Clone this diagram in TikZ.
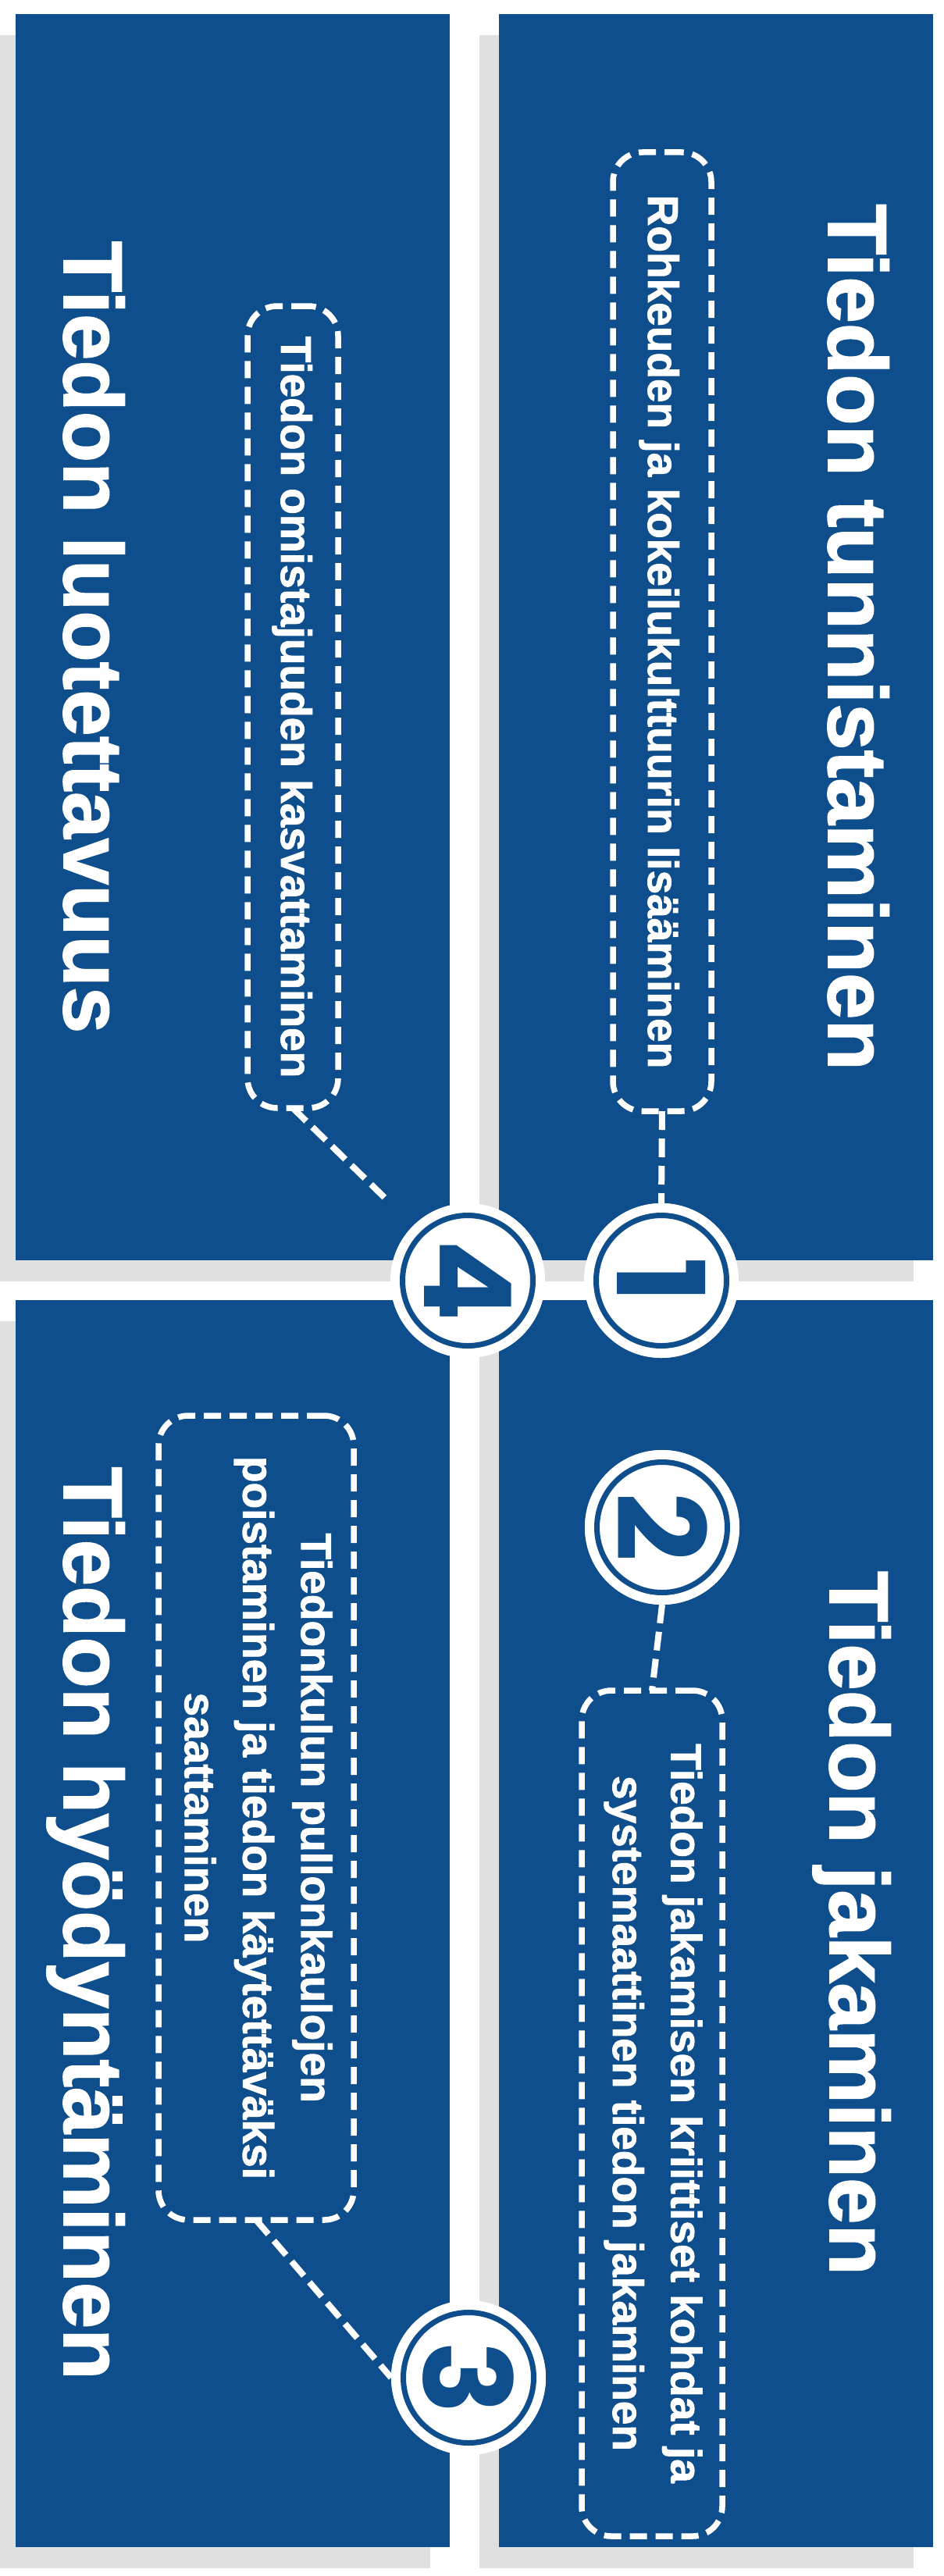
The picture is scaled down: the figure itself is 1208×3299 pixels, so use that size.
\documentclass[tikz,border=0pt]{standalone}
\usepackage{fontspec}
\setmainfont{Liberation Sans}[BoldFeatures={FakeBold=1.6}]
\newfontfamily\digfont{Poppins}
\definecolor{panelblue}{RGB}{14,78,140}
\definecolor{shadowgray}{RGB}{224,224,224}
\begin{document}
\begin{tikzpicture}[x=1pt,y=-1pt,
  dbox/.style={draw=white, line width=7.5pt, dash pattern=on 22pt off 11pt,
    rounded corners=38pt, inner sep=0pt, outer sep=0pt, rectangle},
  conn/.style={draw=white, line width=8pt, dash pattern=on 24pt off 11pt},
  titletext/.style={text=white, font=\bfseries\fontsize{107}{128}\selectfont,
    rotate=-90, anchor=base, inner sep=0pt},
  boxtext/.style={text=white, font=\bfseries\fontsize{55}{74.5}\selectfont,
    rotate=-90, align=center, inner sep=0pt},
  numdisc/.style={circle, fill=white, minimum size=198pt, inner sep=0pt, outer sep=0pt},
  numring/.style={draw=panelblue, line width=7pt},
  digit/.style={text=panelblue, font=\digfont\bfseries\fontsize{155}{160}\selectfont,
    rotate=-90, inner sep=0pt}
]
\useasboundingbox (0,0) rectangle (1208,3299);
\fill[white] (0,0) rectangle (1208,3299);

% shadows
\fill[shadowgray] (0,45) rectangle (551,1641);
\fill[shadowgray] (614,45) rectangle (1170,1641);
\fill[shadowgray] (0,1692) rectangle (551,3289);
\fill[shadowgray] (614,1692) rectangle (1170,3289);

% panels
\fill[panelblue] (20,18) rectangle (576,1614);
\fill[panelblue] (639,18) rectangle (1195,1614);
\fill[panelblue] (20,1665) rectangle (576,3262);
\fill[panelblue] (639,1665) rectangle (1195,3262);

% dashed boxes
\node[dbox, minimum width=126pt, minimum height=1228pt] (b1) at (848,809) {};
\node[dbox, minimum width=180pt, minimum height=1083pt] (b2) at (835,2706.5) {};
\node[dbox, minimum width=250pt, minimum height=1030pt] (b3) at (328,2328) {};
\node[dbox, minimum width=116pt, minimum height=1027pt] (b4) at (375,905.5) {};

% circles
\node[numdisc] (c1) at (847,1640) {};
\node[numdisc] (c2) at (848,1956) {};
\node[numdisc] (c3) at (600,3045) {};
\node[numdisc] (c4) at (599,1640) {};
\coordinate (c4corner) at (c4.west |- c4.north);

% connectors
\draw[conn] (b1.south) -- (c1.north);
\draw[conn] (c2.south) -- (b2.north);
\draw[conn] (b3.south) -- (c3.west);
\draw[conn] (b4.south) -- (c4corner);

% redraw discs over connector ends
\node[numdisc] (c1b) at (c1) {};
\node[numdisc] (c2b) at (c2) {};
\node[numdisc] (c3b) at (c3) {};
\node[numdisc] (c4b) at (c4) {};

\draw[numring] (c1.center) circle[radius=83.5pt];
\draw[numring] (c2.center) circle[radius=83.5pt];
\draw[numring] (c3.center) circle[radius=83.5pt];
\draw[numring] (c4.center) circle[radius=83.5pt];

\node[digit] (d1) at (c1.center) {1};
\node[digit] (d2) at (c2.center) {2};
\node[digit] (d3) at (c3.center) {3};
\node[digit] (d4) at (c4.center) {4};

% titles
\node[titletext] (t1) at (1061,816) {Tiedon tunnistaminen};
\node[titletext] (t2) at (1063,2463) {Tiedon jakaminen};
\node[titletext] (t3) at (82,2463) {Tiedon hyödyntäminen};
\node[titletext] (t4) at (82,816) {Tiedon luotettavuus};

% box texts
\node[boxtext, anchor=base] (x1) at (830,809) {Rohkeuden ja kokeilukulttuurin lisääminen};
\node[boxtext, anchor=base] (x4) at (360,905.5) {Tiedon omistajuuden kasvattaminen};
\node[boxtext] (x2) at (836.5,2706.5) {Tiedon jakamisen kriittiset kohdat ja\\systemaattinen tiedon jakaminen};
\node[boxtext] (x3) at (331,2328) {Tiedonkulun pullonkaulojen\\poistaminen ja tiedon käytettäväksi\\saattaminen};
\end{tikzpicture}
\end{document}
